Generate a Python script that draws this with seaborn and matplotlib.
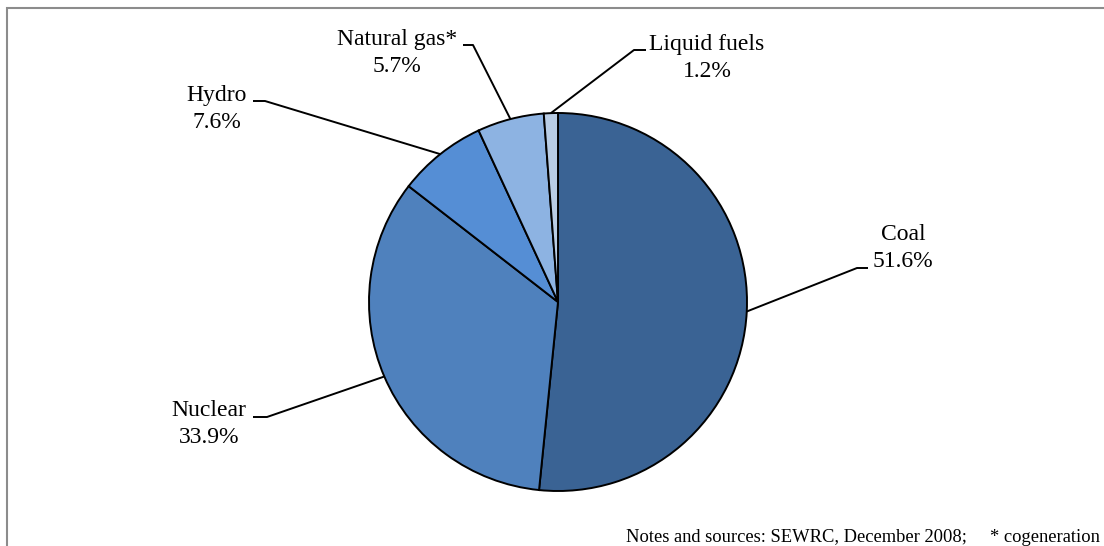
import matplotlib
matplotlib.use("Agg")
import numpy as np
import matplotlib.pyplot as plt
import seaborn as sns
from matplotlib.patches import Rectangle

# data
sources = ["Coal", "Nuclear", "Hydro", "Natural gas*", "Liquid fuels"]
shares = [51.6, 33.9, 7.6, 5.7, 1.2]
colors = ["#3A6394", "#4F81BD", "#558ED5", "#8DB3E2", "#B9CDE5"]

# label block centres and leader elbows, in pixel coords (y from top)
label_xy = [(903, 248), (209, 424), (217, 109), (397, 53), (707, 58)]
elbow_xy = [((857, 268), (868, 268)),
            ((267, 417), (253, 417)),
            ((265, 101), (253, 101)),
            ((473, 45), (463, 45)),
            ((634, 50), (646, 50))]
note = "Notes and sources: SEWRC, December 2008;     * cogeneration"

W, H = 1104, 546
CX, CY, R = 558, 302, 189

sns.set_theme(style="white")
plt.rcParams["font.family"] = ["Liberation Serif", "DejaVu Serif"]

fig = plt.figure(figsize=(W / 100, H / 100), dpi=100)
ax = fig.add_axes([0, 0, 1, 1])

wedges, _ = ax.pie(
    shares,
    colors=colors,
    startangle=90,
    counterclock=False,
    center=(CX, H - CY),
    radius=R,
    wedgeprops={"edgecolor": "black", "linewidth": 1.4},
)
ax.set_xlim(0, W)
ax.set_ylim(0, H)
ax.set_aspect("equal")
ax.axis("off")

# outer frame (only the top and left edges are visible in the crop)
ax.add_patch(Rectangle((7, -20), W + 40, H - 8 + 20, fill=False,
                       edgecolor="#8C8C8C", linewidth=1.5))

for w, name, val, (lx, ly), (e1, e2) in zip(wedges, sources, shares,
                                             label_xy, elbow_xy):
    mid = np.deg2rad((w.theta1 + w.theta2) / 2)
    px = CX + R * np.cos(mid)
    py = (H - CY) + R * np.sin(mid)
    ax.plot([px, e1[0], e2[0]], [py, H - e1[1], H - e2[1]],
            color="black", linewidth=1.4, solid_capstyle="butt")
    ax.text(lx, H - ly, f"{name}\n{val:.1f}%", ha="center", va="center",
            multialignment="center", fontsize=17, color="black",
            linespacing=1.34)

ax.text(1100, 4, note, ha="right", va="baseline", fontsize=13.3,
        color="black")

fig.savefig("out.png", dpi=100)
